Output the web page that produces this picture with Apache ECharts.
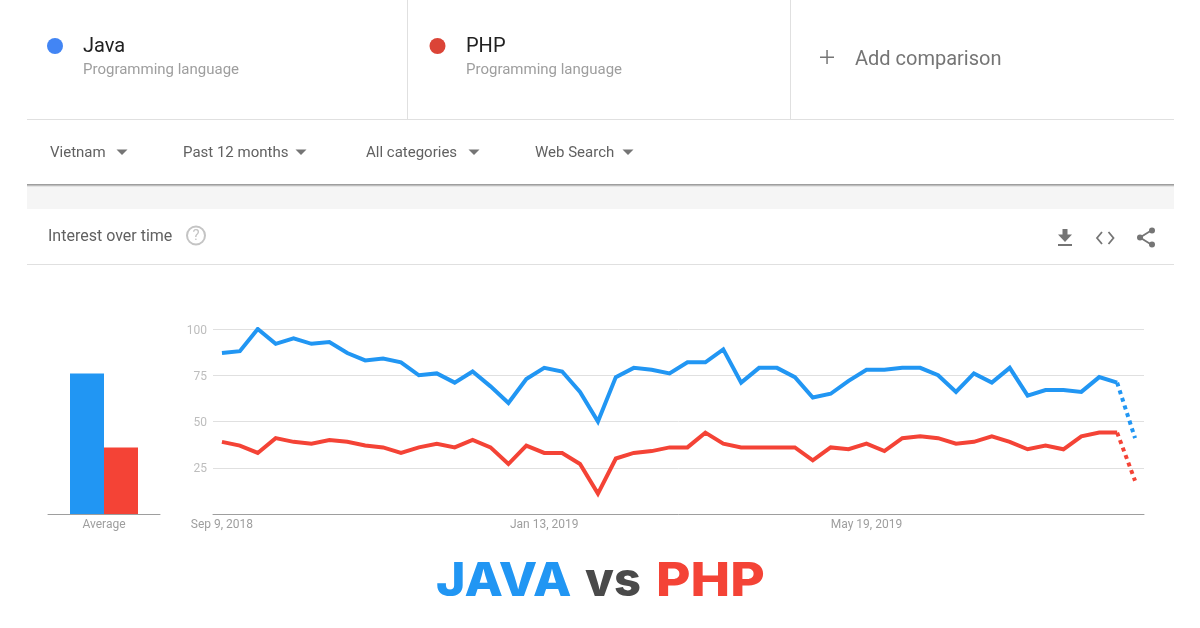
<!DOCTYPE html>
<html>
<head>
<meta charset="utf-8">
<title>Java vs PHP</title>
<script src="https://cdn.jsdelivr.net/npm/echarts@6/dist/echarts.min.js"></script>
<style>
	html, body { margin: 0; padding: 0; background: #fff; }
	#chart { width: 1200px; height: 628px; }
</style>
</head>
<body>
<div id="chart"></div>
<script>
// weekly dates, Sep 9 2018 onwards
let weeks = [
	'Sep 9, 2018','Sep 16, 2018','Sep 23, 2018','Sep 30, 2018','Oct 7, 2018','Oct 14, 2018','Oct 21, 2018','Oct 28, 2018',
	'Nov 4, 2018','Nov 11, 2018','Nov 18, 2018','Nov 25, 2018','Dec 2, 2018','Dec 9, 2018','Dec 16, 2018','Dec 23, 2018',
	'Dec 30, 2018','Jan 6, 2019','Jan 13, 2019','Jan 20, 2019','Jan 27, 2019','Feb 3, 2019','Feb 10, 2019','Feb 17, 2019',
	'Feb 24, 2019','Mar 3, 2019','Mar 10, 2019','Mar 17, 2019','Mar 24, 2019','Mar 31, 2019','Apr 7, 2019','Apr 14, 2019',
	'Apr 21, 2019','Apr 28, 2019','May 5, 2019','May 12, 2019','May 19, 2019','May 26, 2019','Jun 2, 2019','Jun 9, 2019',
	'Jun 16, 2019','Jun 23, 2019','Jun 30, 2019','Jul 7, 2019','Jul 14, 2019','Jul 21, 2019','Jul 28, 2019','Aug 4, 2019',
	'Aug 11, 2019','Aug 18, 2019','Aug 25, 2019','Sep 1, 2019'
];
let javaValues = [
	87,88,100,92,95,92,93,87,83,84,82,75,76,71,77,69,60,73,79,77,66,50,74,79,78,76,
	82,82,89,71,79,79,74,63,65,72,78,78,79,79,75,66,76,71,79,64,67,67,66,74,71,41
];
let phpValues = [
	39,37,33,41,39,38,40,39,37,36,33,36,38,36,40,36,27,37,33,33,27,11,30,33,34,36,
	36,44,38,36,36,36,36,29,36,35,38,34,41,42,41,38,39,42,39,35,37,35,42,44,44,18
];
let averageLabels = ['Average'];
let javaAverage = [76];
let phpAverage = [36];
let yTicks = [0, 25, 50, 75, 100];
let filters = ['Vietnam', 'Past 12 months', 'All categories', 'Web Search'];

const BLUE = '#2196f3';
const RED = '#f44336';
const GREY = '#757575';
const FONT = 'Roboto, sans-serif';

// the last week is partial data, so it gets a dotted segment
let solidPart = arr => arr.map((v, i) => i < arr.length - 1 ? v : null);
let dottedPart = arr => arr.map((v, i) => i >= arr.length - 2 ? v : null);

function lineSeries(data, color, dotted) {
	return {
		type: 'line',
		xAxisIndex: 1,
		yAxisIndex: 1,
		data: data,
		symbol: 'none',
		silent: true,
		animation: false,
		connectNulls: false,
		lineStyle: {
			color: color,
			width: 4,
			type: dotted ? [4, 4] : 'solid',
			join: 'miter'
		}
	};
}

function text(str, x, y, size, color, extra) {
	return {
		type: 'text',
		x: x,
		y: y,
		style: Object.assign({
			text: str,
			fontFamily: FONT,
			fontSize: size,
			fill: color,
			textVerticalAlign: 'middle'
		}, extra || {})
	};
}

function rect(x, y, w, h, color) {
	return { type: 'rect', shape: { x: x, y: y, width: w, height: h }, style: { fill: color } };
}

function polygon(points) {
	return { type: 'polygon', shape: { points: points }, style: { fill: GREY } };
}

function polyline(points, width) {
	return { type: 'polyline', shape: { points: points }, style: { fill: 'none', stroke: GREY, lineWidth: width } };
}

function dot(cx, cy, r) {
	return { type: 'circle', shape: { cx: cx, cy: cy, r: r }, style: { fill: GREY } };
}

function triangle(cx, cy) {
	return polygon([[cx - 5.5, cy - 2.5], [cx + 5.5, cy - 2.5], [cx, cy + 3]]);
}

// big title, no Montserrat here so Inter gets stretched to the same width
function titleWord(str, x, color, scaleX) {
	let el = text(str, x, 582, 47, color, { fontFamily: 'Inter, sans-serif', fontWeight: 800 });
	el.scaleX = scaleX;
	return el;
}

// header, filter row and toolbar around the chart
let filterX = [50, 183, 366, 535];
let arrowX = [122, 301, 474, 628];
let chrome = [
	rect(27, 119, 1147, 1, '#e0e0e0'),
	rect(407, 0, 1, 119, '#e0e0e0'),
	rect(790, 0, 1, 119, '#e0e0e0'),
	rect(27, 185, 1147, 24, '#f5f5f5'),
	rect(27, 184, 1147, 1, '#9e9e9e'),
	rect(27, 185, 1147, 1, '#bdbdbd'),
	rect(27, 186, 1147, 1, '#e4e4e4'),
	rect(27, 264, 1147, 1, '#e0e0e0'),
	{ type: 'circle', shape: { cx: 55, cy: 46, r: 8 }, style: { fill: '#4285f4' } },
	{ type: 'circle', shape: { cx: 437.5, cy: 46, r: 8 }, style: { fill: '#db4437' } },
	text('Java', 83, 47, 20, '#212121'),
	text('Programming language', 83, 70, 15, '#9e9e9e'),
	text('PHP', 466, 47, 20, '#212121'),
	text('Programming language', 466, 70, 15, '#9e9e9e'),
	rect(820, 56.5, 14, 1.5, GREY),
	rect(826.3, 50, 1.5, 14, GREY),
	text('Add comparison', 855, 59.5, 20, GREY),
	text('Interest over time', 48, 237, 16, '#616161'),
	{ type: 'circle', shape: { cx: 196, cy: 235.5, r: 9 }, style: { fill: 'none', stroke: '#c4c4c4', lineWidth: 2 } },
	text('?', 196, 236.5, 15, '#c4c4c4', { textAlign: 'center' }),
	// download, embed and share icons
	polygon([[1062.5, 229], [1067.5, 229], [1067.5, 234.5], [1072, 234.5], [1065, 242], [1058, 234.5], [1062.5, 234.5]]),
	rect(1058, 244, 14, 2, GREY),
	polyline([[1102, 232], [1097, 238], [1102, 244]], 1.8),
	polyline([[1108.5, 232], [1113.5, 238], [1108.5, 244]], 1.8),
	polyline([[1152, 230], [1140, 237.5], [1152, 245]], 1.8),
	dot(1152, 230.5, 3),
	dot(1140, 237.5, 3),
	dot(1152, 244.5, 3),
	titleWord('JAVA', 436, BLUE, 1.063),
	titleWord('vs', 585, '#4a4a4a', 1),
	titleWord('PHP', 656, RED, 1.128)
];
filters.forEach((f, i) => {
	chrome.push(text(f, filterX[i], 153, 15, '#616161'));
	chrome.push(triangle(arrowX[i], 152));
});

let myChart = echarts.init(document.getElementById('chart'));
myChart.setOption({
	animation: false,
	backgroundColor: '#fff',
	grid: [
		{ left: 48, width: 112, top: 329, height: 185 },
		{ left: 213, width: 931, top: 329, height: 185 }
	],
	xAxis: [
		{
			type: 'category',
			gridIndex: 0,
			data: averageLabels,
			axisLine: { lineStyle: { color: '#9e9e9e', width: 1 } },
			axisTick: { show: false },
			axisLabel: { color: '#9e9e9e', fontSize: 12, fontFamily: FONT, margin: 5 }
		},
		{
			type: 'category',
			gridIndex: 1,
			data: weeks,
			axisLine: { lineStyle: { color: '#9e9e9e', width: 1 } },
			axisTick: { show: false },
			axisLabel: { color: '#9e9e9e', fontSize: 12, fontFamily: FONT, margin: 5, interval: 17 }
		}
	],
	yAxis: [
		{
			type: 'value',
			gridIndex: 0,
			min: yTicks[0],
			max: yTicks[yTicks.length - 1],
			interval: 25,
			show: false
		},
		{
			type: 'value',
			gridIndex: 1,
			min: yTicks[0],
			max: yTicks[yTicks.length - 1],
			interval: 25,
			axisLine: { show: false },
			axisTick: { show: false },
			// short line box so the labels sit a bit under the gridline centre
			axisLabel: { color: '#bdbdbd', fontSize: 12, fontFamily: FONT, margin: 6, showMinLabel: false, verticalAlign: 'top', lineHeight: 3 },
			splitLine: { lineStyle: { color: '#e0e0e0', width: 1 } }
		}
	],
	series: [
		{ type: 'bar', xAxisIndex: 0, yAxisIndex: 0, data: javaAverage, barWidth: 34, barGap: 0, itemStyle: { color: BLUE } },
		{ type: 'bar', xAxisIndex: 0, yAxisIndex: 0, data: phpAverage, barWidth: 34, barGap: 0, itemStyle: { color: RED } },
		lineSeries(solidPart(javaValues), BLUE, false),
		lineSeries(dottedPart(javaValues), BLUE, true),
		lineSeries(solidPart(phpValues), RED, false),
		lineSeries(dottedPart(phpValues), RED, true)
	],
	graphic: { elements: chrome }
});
</script>
</body>
</html>
